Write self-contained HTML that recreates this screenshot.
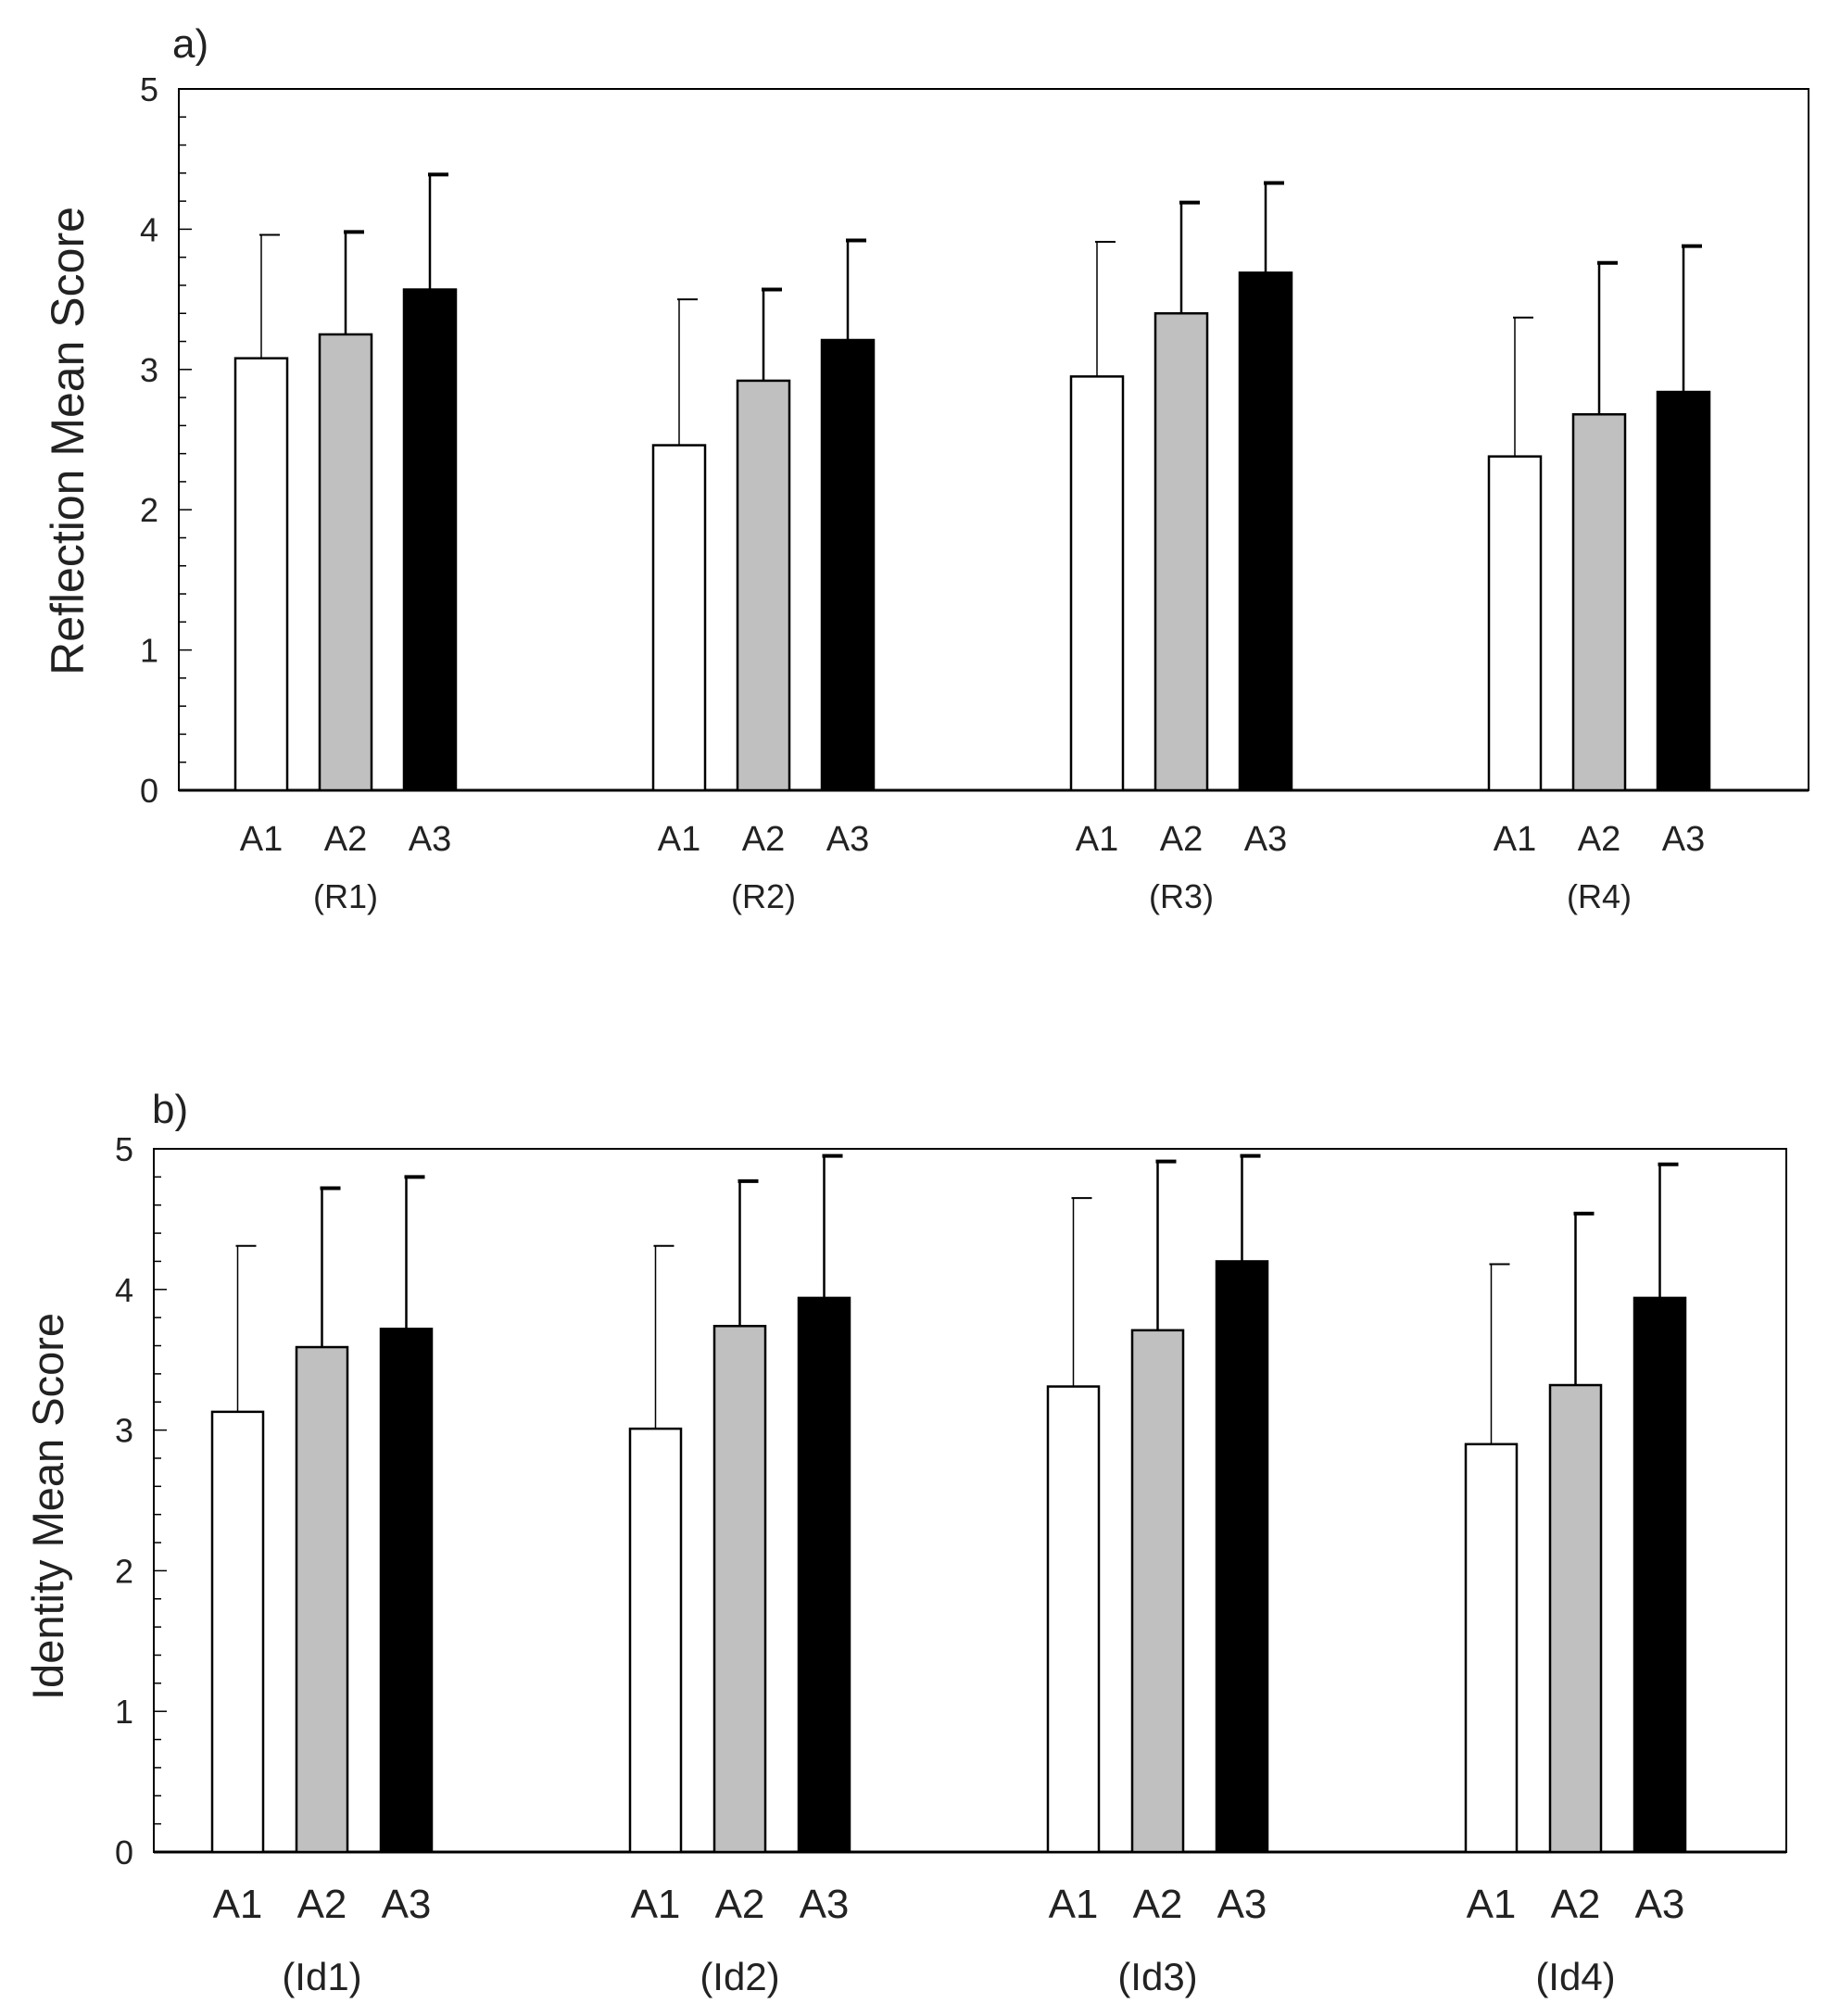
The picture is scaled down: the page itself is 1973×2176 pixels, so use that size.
<!DOCTYPE html>
<html><head><meta charset="utf-8"><style>
body{margin:0;background:#fff}
svg{display:block;font-family:"Liberation Sans",sans-serif}
</style></head><body>
<svg id="c" width="1973" height="2176" xmlns="http://www.w3.org/2000/svg"></svg>
<script>
const groupsA=["(R1)","(R2)","(R3)","(R4)"];
const groupsB=["(Id1)","(Id2)","(Id3)","(Id4)"];
const series=["A1","A2","A3"];
const meansA=[[3.08,3.25,3.57],[2.46,2.92,3.21],[2.95,3.40,3.69],[2.38,2.68,2.84]];
const errTopA=[[3.96,3.98,4.39],[3.50,3.57,3.92],[3.91,4.19,4.33],[3.37,3.76,3.88]];
const meansB=[[3.13,3.59,3.72],[3.01,3.74,3.94],[3.31,3.71,4.20],[2.90,3.32,3.94]];
const errTopB=[[4.31,4.72,4.80],[4.31,4.77,4.95],[4.65,4.91,4.95],[4.18,4.54,4.89]];
const yTicks=[0,1,2,3,4,5];
const fills=["#fff","#c0c0c0","#000"];
const NS="http://www.w3.org/2000/svg";
const svg=document.getElementById('c');
function mk(t,a,p){const e=document.createElementNS(NS,t);for(const k in a)e.setAttribute(k,a[k]);(p||svg).appendChild(e);return e;}
function chart(o){
  const g=mk('g',{});
  
  
  const y=v=>o.bottom-(v/5)*(o.bottom-o.top);
  const frame=mk('rect',{x:o.left,y:o.top,width:o.right-o.left,height:o.bottom-o.top,fill:'none',stroke:'#000','stroke-width':2},g);
  
  
  const xa=mk('line',{x1:o.left,x2:o.right,y1:o.bottom,y2:o.bottom,stroke:'#000','stroke-width':3},g);
  
  
  for(let i=0;i<=25;i++){const v=i*0.2;const len=(i%5===0)?14:8;
    mk('line',{x1:o.left,x2:o.left+len,y1:y(v),y2:y(v),stroke:'#000','stroke-width':1.5},g);}
  yTicks.forEach(t=>{const tx=mk('text',{x:o.left-22,y:y(t)+13,'text-anchor':'end','font-size':36,fill:'#222'},g);tx.textContent=t;
    
    });
  const yt=mk('text',{x:0,y:0,'text-anchor':'middle','font-size':o.ytfs,fill:'#222',transform:`translate(${o.ytx},${o.yty}) rotate(-90)`},g);
  yt.textContent=o.ytitle;
  
  
  const pl=mk('text',{x:o.plx,y:o.ply,'font-size':44,fill:'#222'},g);pl.textContent=o.panel;
  
  
  o.groups.forEach((gn,gi)=>{
    series.forEach((s,si)=>{
      const x0=o.x0+gi*o.gstep+si*o.bstep;const cx=x0+o.bw/2;
      const v=o.means[gi][si],e=o.errs[gi][si];
      const el=mk('line',{x1:cx,x2:cx,y1:y(v),y2:y(e),stroke:'#000','stroke-width':si===0?1.5:2.5},g);
      
      
      mk('line',{x1:cx-2,x2:cx+20,y1:y(e),y2:y(e),stroke:'#000','stroke-width':si===0?2:4},g);
      const b=mk('rect',{x:x0,y:y(v),width:o.bw,height:o.bottom-y(v),fill:fills[si],stroke:'#000','stroke-width':2.5},g);
      
      
      const sl=mk('text',{x:cx,y:o.sly,'text-anchor':'middle','font-size':o.sfs,fill:'#222'},g);sl.textContent=s;
      
      
    });
    const gl=mk('text',{x:o.x0+gi*o.gstep+o.bstep+o.bw/2,y:o.gly,'text-anchor':'middle','font-size':o.sfs-2,fill:'#222'},g);gl.textContent=gn;
    
    
  });
}
chart({name:'chart-a-reflection',left:193,right:1952,top:96,bottom:853,x0:254,bw:56,bstep:91,gstep:451,
  means:meansA,errs:errTopA,groups:groupsA,ytitle:'Reflection Mean Score',ytfs:50,ytx:90,yty:476,panel:'a)',plx:186,ply:62,
  sly:918,gly:980,sfs:38});
chart({name:'chart-b-identity',left:166,right:1928,top:1240,bottom:1999,x0:229,bw:55,bstep:91,gstep:451,
  means:meansB,errs:errTopB,groups:groupsB,ytitle:'Identity Mean Score',ytfs:47,ytx:68,yty:1626,panel:'b)',plx:164,ply:1212,
  sly:2070,gly:2148,sfs:44});
</script>
</body></html>
